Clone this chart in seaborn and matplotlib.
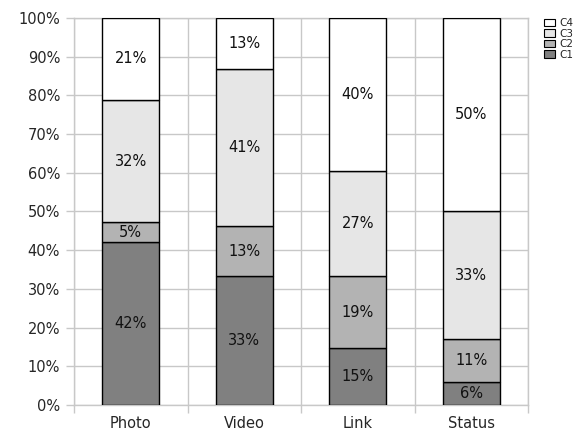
import numpy as np
import pandas as pd
import seaborn as sns
import matplotlib.pyplot as plt
from matplotlib.patches import Patch
from matplotlib.ticker import PercentFormatter, FixedLocator

categories = ['Photo', 'Video', 'Link', 'Status']
c1 = [42.0, 33.2, 14.6, 5.9]
c2 = [5.2, 13.1, 18.7, 11.1]
c3 = [31.6, 40.6, 27.1, 33.1]
c4 = [21.2, 13.1, 39.6, 49.9]
series_names = ['C1', 'C2', 'C3', 'C4']
colors = ['#808080', '#b3b3b3', '#e6e6e6', '#ffffff']

sns.set_style('white')
plt.rcParams['font.family'] = ['DejaVu Sans']

fig = plt.figure(figsize=(5.8, 4.33), dpi=100)
ax = fig.add_axes([0.1276, 0.0647, 0.7828, 0.8938])

grid_col = '#c8c8c8'
bottom = np.zeros(len(categories))
for name, vals, col in zip(series_names, [c1, c2, c3, c4], colors):
    sns.barplot(x=categories, y=vals, bottom=bottom, color=col, edgecolor='black',
                linewidth=1.0, width=0.5, saturation=1, ax=ax, zorder=3)
    for i, v in enumerate(vals):
        ax.text(i, bottom[i] + v / 2, f'{v:.0f}%', ha='center', va='center',
                fontsize=10.5, color='#111111', zorder=4)
    bottom = bottom + np.array(vals)

ax.set_xlim(-0.5, 3.5)
ax.set_ylim(0, 100)
ax.set_yticks(np.arange(0, 101, 10))
ax.yaxis.set_major_formatter(PercentFormatter(decimals=0))
ax.xaxis.set_minor_locator(FixedLocator([-0.5, 0.5, 1.5, 2.5, 3.5]))
ax.grid(axis='y', which='major', color=grid_col, linewidth=1.0, zorder=0)
ax.grid(axis='x', which='minor', color=grid_col, linewidth=1.0, zorder=0)
ax.set_axisbelow(True)
ax.tick_params(axis='x', which='major', length=0, labelsize=10.5, pad=8)
ax.tick_params(axis='x', which='minor', length=6, color=grid_col, width=1.0, bottom=True)
ax.tick_params(axis='y', length=6, color=grid_col, width=1.0, labelsize=10.5, pad=4, left=True)
for sp in ax.spines.values():
    sp.set_color(grid_col)
    sp.set_linewidth(1.0)
ax.set_xlabel('')
ax.set_ylabel('')

handles = [Patch(facecolor=c, edgecolor='black', linewidth=0.8, label=n)
           for n, c in zip(series_names, colors)][::-1]
fig.legend(handles=handles, loc='upper left', bbox_to_anchor=(0.926, 0.975),
           frameon=False, fontsize=7.5, handlelength=1.0, handleheight=0.75,
           handletextpad=0.4, labelspacing=0.05, borderpad=0.2)

fig.savefig('out.png', dpi=100)
